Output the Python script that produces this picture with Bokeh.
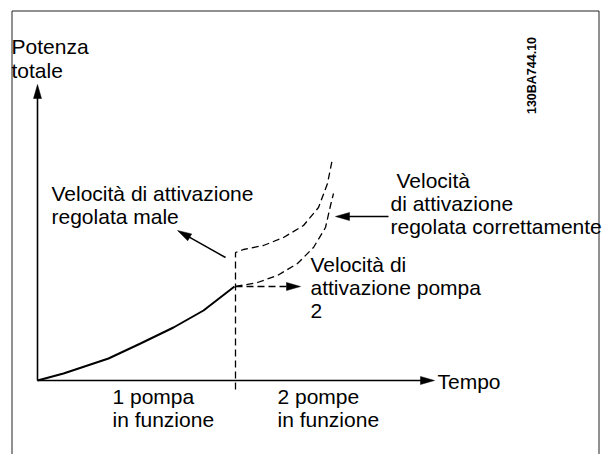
import math
from bokeh.plotting import figure
from bokeh.models import Range1d, ColumnDataSource
from bokeh.core.properties import value
from bokeh.embed import file_html
from bokeh.resources import INLINE

# ---- data (time / total power, arbitrary units) ----
t_one = [0, 26, 71, 103, 136, 166, 197]            # 1 pump running
p_one = [0, 7, 22, 37, 53, 70, 94]

t_good = [198, 220, 240, 260, 276, 288, 293, 296]   # correctly set staging speed
p_good = [94, 98, 105, 117, 133, 153, 175, 187]

t_bad = [198, 198, 206, 226, 246, 266, 281, 290, 295]  # badly set staging speed
p_bad = [-9, 128, 131, 135, 143, 155, 173, 197, 222]

axis_x_end = 397
axis_y_end = 296

# annotation arrows: (x0, y0, x1, y1)
arrow_bad = (188, 123, 140, 150)
arrow_good = (351, 164, 298, 164)
arrow_stage = (198, 94, 263, 94)

labels_text = ["Potenza", "totale",
               "Velocità di attivazione", "regolata male",
               "Velocità", "di attivazione", "regolata correttamente",
               "Velocità di", "attivazione pompa", "2",
               "Tempo",
               "1 pompa", "in funzione",
               "2 pompe", "in funzione"]
labels_x = [-26, -26, 14, 14, 359, 353, 353, 273, 273, 273, 400, 75, 75, 240, 240]
labels_y = [334, 310, 187, 164, 200, 177, 154, 116, 93, 70, -1, -16, -39, -16, -39]

code_label = "130BA744.10"

# ---- figure: 1 data unit = 1 px ----
W, H = 608, 454
p = figure(width=W, height=H, output_backend="svg", toolbar_location=None,
           x_range=Range1d(-37, -37 + W), y_range=Range1d(380 - H, 380),
           x_axis_location=None, y_axis_location=None, min_border=0)
p.xgrid.visible = False
p.ygrid.visible = False
p.outline_line_color = None
p.background_fill_color = "white"
p.border_fill_color = "white"

# image frame (left, top, right)
fl, ft, fr = -25.5, 369.5, 561.5
p.line([fl, fl, fr, fr], [380 - H, ft, ft, 380 - H], line_color="#222222", line_width=1)


def arrow(x0, y0, x1, y1, dash="solid", lw=1.5, L=14, Wd=8):
    dx, dy = x1 - x0, y1 - y0
    d = math.hypot(dx, dy)
    ux, uy = dx / d, dy / d
    bx, by = x1 - ux * L, y1 - uy * L
    p.line([x0, bx + ux * 2], [y0, by + uy * 2], line_color="black",
           line_width=lw, line_dash=dash)
    px_, py_ = -uy * Wd / 2, ux * Wd / 2
    p.patch([x1, bx + px_, bx - px_], [y1, by + py_, by - py_],
            fill_color="black", line_color="black", line_width=0.5)


# axes
arrow(0, 0, 0, axis_y_end, lw=1.6)
arrow(0, 0, axis_x_end, 0, lw=1.6)

# curves
p.line(t_one, p_one, line_color="black", line_width=2)
p.line(t_good, p_good, line_color="black", line_width=1.3, line_dash="7 4")
p.line(t_bad, p_bad, line_color="black", line_width=1.3, line_dash="7 4")

# annotation arrows
arrow(*arrow_bad, lw=1.5)
arrow(*arrow_good, lw=1.5)
arrow(*arrow_stage, dash="7 4", lw=1.3)

src = ColumnDataSource(dict(x=labels_x, y=labels_y, text=labels_text))
p.text(x="x", y="y", text="text", source=src, text_font=value("Liberation Sans"),
       text_font_size="21px", text_color="black", text_align="left",
       text_baseline="alphabetic")

p.text(x=[494], y=[305], text=[code_label], angle=math.pi / 2,
       text_font=value("Liberation Sans"), text_font_size="12.5px",
       text_font_style="bold", text_color="black", text_align="center",
       text_baseline="middle")

open("out.html", "w").write(file_html(p, INLINE))
